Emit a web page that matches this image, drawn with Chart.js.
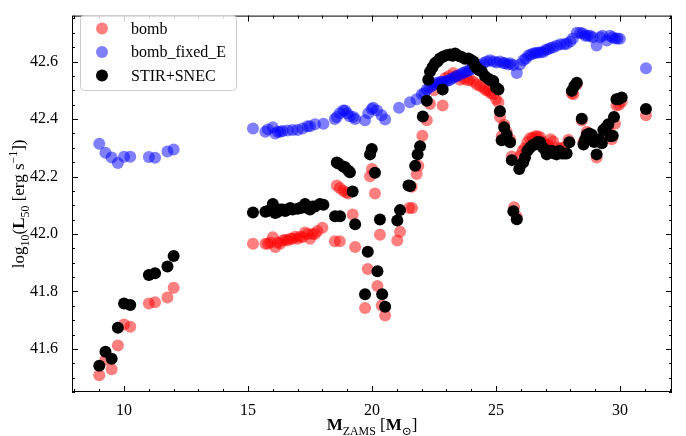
<!DOCTYPE html>
<html>
<head>
<meta charset="utf-8">
<script src="https://cdn.jsdelivr.net/npm/chart.js@4.4.1/dist/chart.umd.min.js"></script>
<style>
  html, body { margin: 0; padding: 0; background: #fff; }
  #wrap { width: 686px; height: 436px; }
</style>
</head>
<body>
<div id="wrap"><canvas id="myChart" width="686" height="436"></canvas></div>
<script>
// values
const bombMass = [9.0, 9.25, 9.5, 9.75, 10.0, 10.25, 11.0, 11.25, 11.75, 12.0,
  15.2, 15.7, 15.8, 15.9, 16.0, 16.1, 16.2, 16.3, 16.4, 16.5, 16.6, 16.7, 16.8, 16.9, 17.0, 17.1, 17.2, 17.3, 17.4, 17.5, 17.6, 17.7, 17.8, 18.0,
  18.5, 18.7, 18.58, 18.7, 18.84, 18.95, 19.05, 19.22, 19.32, 19.72, 19.83, 19.92, 20.0, 20.12, 20.22, 20.32, 20.39, 20.53,
  21.02, 21.13, 21.5, 21.62, 21.6, 21.8, 21.87, 22.03, 22.21, 22.34, 22.5, 22.7, 22.85, 22.95, 23.1, 23.28, 23.4, 23.55, 23.7, 23.85, 23.95,
  24.1, 24.23, 24.36, 24.49, 24.6, 24.69, 24.79, 24.89, 25.0, 25.1, 25.16, 25.23, 25.33, 25.43, 25.57, 25.64, 25.73, 25.84, 25.97,
  26.07, 26.17, 26.27, 26.37, 26.48, 26.58, 26.68, 26.78, 26.9, 27.0, 27.1, 27.2, 27.31, 27.45, 27.55, 27.65, 27.75, 27.92,
  28.06, 28.12, 28.26, 28.46, 28.53, 28.66, 28.76, 28.86, 29.06, 29.27, 29.43, 29.53, 29.67, 29.8, 29.86, 29.96, 30.07, 31.05];
const bombL = [41.508, 41.562, 41.529, 41.612, 41.685, 41.677, 41.758, 41.762, 41.779, 41.813,
  41.966, 41.966, 41.966, 41.97, 41.989, 41.955, 41.97, 41.966, 41.977, 41.98, 41.977, 41.983, 41.983, 41.99, 41.983, 41.99, 41.989, 42.005, 42.0, 41.983, 42.0, 42.0, 42.01, 42.022,
  41.975, 41.975, 42.169, 42.16, 42.15, 42.145, 42.141, 42.068, 41.955, 41.742, 41.878, 42.201, 42.226, 42.141, 41.819, 41.997, 41.751, 41.716,
  41.977, 42.008, 42.09, 42.09, 42.164, 42.209, 42.237, 42.342, 42.396, 42.452, 42.50, 42.52, 42.447, 42.543, 42.55, 42.56, 42.55, 42.537, 42.54, 42.535, 42.537,
  42.53, 42.52, 42.515, 42.509, 42.50, 42.498, 42.49, 42.486, 42.47, 42.458, 42.407, 42.34, 42.38, 42.355, 42.33, 42.27, 42.093, 42.06, 42.271,
  42.29, 42.30, 42.32, 42.333, 42.335, 42.34, 42.34, 42.337, 42.32, 42.31, 42.31, 42.33, 42.322, 42.30, 42.29, 42.30, 42.30, 42.328,
  42.49, 42.486, 42.52, 42.395, 42.32, 42.356, 42.35, 42.34, 42.266, 42.33, 42.36, 42.37, 42.33, 42.384, 42.447, 42.45, 42.46, 42.413];

const fixedMass = [9.0, 9.25, 9.5, 9.75, 10.0, 10.25, 11.0, 11.25, 11.75, 12.0,
  15.2, 15.7, 15.8, 16.0, 16.1, 16.2, 16.3, 16.4, 16.6, 16.8, 17.0, 17.2, 17.4, 17.5, 17.7, 18.04,
  18.5, 18.58, 18.7, 18.84, 18.91, 19.0, 19.1, 19.25, 19.32, 19.72, 19.85, 19.99, 20.05, 20.2, 20.39, 20.53, 21.09, 21.53, 21.8,
  22.01, 22.11, 22.21, 22.31, 22.41, 22.51, 22.61, 22.71, 22.81, 22.91, 23.01, 23.11, 23.21, 23.31, 23.41, 23.55, 23.65, 23.75, 23.85, 23.95,
  24.05, 24.15, 24.25, 24.36, 24.5, 24.63, 24.76, 24.9, 25.03, 25.16, 25.3, 25.37, 25.5, 25.57, 25.7, 25.84, 25.97,
  26.1, 26.2, 26.3, 26.4, 26.51, 26.6, 26.7, 26.8, 26.91, 27.0, 27.1, 27.2, 27.31, 27.45, 27.6, 27.75, 27.85,
  28.0, 28.1, 28.26, 28.4, 28.5, 28.6, 28.7, 28.8, 28.9, 29.06, 29.2, 29.3, 29.47, 29.6, 29.7, 29.8, 29.9, 30.0, 31.05];
const fixedL = [42.314, 42.283, 42.266, 42.247, 42.269, 42.269, 42.268, 42.265, 42.287, 42.294,
  42.367, 42.356, 42.364, 42.371, 42.350, 42.356, 42.356, 42.358, 42.36, 42.362, 42.362, 42.367, 42.375, 42.375, 42.382, 42.384,
  42.40, 42.407, 42.42, 42.43, 42.43, 42.42, 42.41, 42.407, 42.40, 42.396, 42.42, 42.435, 42.439, 42.43, 42.413, 42.398, 42.439, 42.458, 42.469,
  42.486, 42.49, 42.503, 42.51, 42.515, 42.52, 42.525, 42.528, 42.53, 42.53, 42.532, 42.535, 42.54, 42.545, 42.55, 42.554, 42.56, 42.563, 42.567, 42.571,
  42.575, 42.58, 42.585, 42.588, 42.595, 42.6, 42.605, 42.60, 42.597, 42.6, 42.595, 42.594, 42.59, 42.594, 42.588, 42.56, 42.59,
  42.605, 42.61, 42.62, 42.625, 42.628, 42.63, 42.632, 42.632, 42.633, 42.64, 42.643, 42.647, 42.65, 42.655, 42.66, 42.66, 42.662,
  42.67, 42.68, 42.70, 42.70, 42.698, 42.69, 42.69, 42.69, 42.685, 42.656, 42.685, 42.69, 42.673, 42.69, 42.685, 42.68, 42.68, 42.679, 42.577];

const stirMass = [9.0, 9.25, 9.5, 9.75, 10.0, 10.25, 11.0, 11.25, 11.75, 12.0,
  15.2, 15.7, 15.8, 16.0, 16.1, 16.2, 16.3, 16.4, 16.5, 16.6, 16.7, 16.8, 17.0, 17.1, 17.2, 17.3, 17.4, 17.5, 17.6, 17.7, 17.9, 18.04,
  18.51, 18.58, 18.64, 18.71, 18.84, 18.91, 19.05, 19.11, 19.22, 19.32, 19.72, 19.83, 19.92, 19.99, 20.12, 20.22, 20.32, 20.41, 20.53,
  21.02, 21.13, 21.47, 21.54, 21.74, 21.84, 21.94, 22.05, 22.21, 22.27, 22.34, 22.44, 22.54, 22.64, 22.74, 22.85, 22.88, 23.01, 23.15, 23.25, 23.35, 23.48, 23.62, 23.75, 23.89,
  24.0, 24.09, 24.16, 24.23, 24.33, 24.43, 24.56, 24.69, 24.79, 24.89, 25.0, 25.1, 25.16, 25.23, 25.33, 25.43, 25.57, 25.64, 25.70, 25.84, 25.94,
  26.0, 26.1, 26.17, 26.27, 26.37, 26.48, 26.58, 26.68, 26.78, 26.9, 27.0, 27.05, 27.15, 27.25, 27.35, 27.45, 27.55, 27.65, 27.75, 27.85, 27.96,
  28.06, 28.16, 28.26, 28.46, 28.53, 28.6, 28.66, 28.76, 28.86, 28.96, 29.06, 29.16, 29.27, 29.33, 29.43, 29.53, 29.63, 29.71, 29.76, 29.86, 29.96, 30.07, 31.05];
const stirL = [41.541, 41.590, 41.566, 41.674, 41.758, 41.753, 41.857, 41.863, 41.887, 41.923,
  42.075, 42.077, 42.08, 42.104, 42.073, 42.077, 42.085, 42.085, 42.08, 42.085, 42.09, 42.085, 42.088, 42.09, 42.092, 42.104, 42.09, 42.085, 42.096, 42.096, 42.104, 42.102,
  42.062, 42.249, 42.245, 42.062, 42.235, 42.232, 42.22, 42.215, 42.148, 42.034, 41.79, 41.938, 42.277, 42.296, 42.213, 41.87, 42.05, 41.79, 41.747,
  42.047, 42.083, 42.169, 42.167, 42.237, 42.277, 42.305, 42.409, 42.464, 42.537, 42.565, 42.58, 42.594, 42.60, 42.611, 42.503, 42.618, 42.622, 42.625, 42.62, 42.628, 42.62, 42.616, 42.61, 42.611,
  42.605, 42.60, 42.585, 42.577, 42.57, 42.565, 42.549, 42.54, 42.535, 42.532, 42.51, 42.503, 42.427, 42.326, 42.371, 42.345, 42.319, 42.257, 42.079, 42.051, 42.226,
  42.24, 42.25, 42.266, 42.29, 42.30, 42.31, 42.311, 42.32, 42.319, 42.30, 42.29, 42.277, 42.29, 42.29, 42.28, 42.277, 42.29, 42.28, 42.28, 42.28, 42.319,
  42.498, 42.515, 42.526, 42.401, 42.311, 42.33, 42.345, 42.35, 42.345, 42.32, 42.277, 42.33, 42.316, 42.362, 42.37, 42.382, 42.34, 42.342, 42.407, 42.469, 42.47, 42.475, 42.435];

const seriesNames = ['bomb', 'bomb_fixed_E', 'STIR+SNEC'];
const xTickValues = [10, 15, 20, 25, 30];
const yTickValues = [41.6, 41.8, 42.0, 42.2, 42.4, 42.6];

const serif = '"Liberation Serif", "DejaVu Serif", serif';

function toPoints(xs, ys) {
  return xs.map((x, i) => ({ x: x, y: ys[i] }));
}

// matplotlib-ish frame with inward major + minor ticks on all sides
const framePlugin = {
  id: 'frame',
  afterDatasetsDraw(chart) {
    const { ctx, chartArea: a, scales } = chart;
    const xs = scales.x, ys = scales.y;
    ctx.save();
    ctx.strokeStyle = '#000';
    ctx.lineWidth = 1;
    ctx.strokeRect(a.left + 0.5, a.top + 0.5, a.right - a.left - 1, a.bottom - a.top - 1);

    function tick(px, len, vertical) {
      ctx.beginPath();
      if (vertical) {
        ctx.moveTo(px, a.bottom); ctx.lineTo(px, a.bottom - len);
        ctx.moveTo(px, a.top); ctx.lineTo(px, a.top + len);
      } else {
        ctx.moveTo(a.left, px); ctx.lineTo(a.left + len, px);
        ctx.moveTo(a.right, px); ctx.lineTo(a.right - len, px);
      }
      ctx.stroke();
    }
    for (let v = Math.ceil(xs.min); v <= xs.max; v++) {
      const major = v % 5 === 0;
      tick(Math.round(xs.getPixelForValue(v)) + 0.5, major ? 6 : 3, true);
    }
    for (let k = Math.ceil(ys.min / 0.05 - 1e-6); k * 0.05 <= ys.max + 1e-6; k++) {
      const v = k * 0.05;
      const major = Math.abs(v * 5 - Math.round(v * 5)) < 1e-6;
      tick(Math.round(ys.getPixelForValue(v)) + 0.5, major ? 6 : 3, false);
    }
    ctx.restore();
  }
};

// draw a run of text pieces (normal / sub / sup / bold) centred at 0,0
function drawPieces(ctx, pieces, size) {
  const parts = pieces.map(p => {
    const s = p.sub || p.sup ? size * 0.7 : size;
    const font = (p.bold ? 'bold ' : '') + s + 'px ' + serif;
    ctx.font = font;
    return { t: p.t, font: font, w: ctx.measureText(p.t).width, dy: p.sub ? size * 0.28 : (p.sup ? -size * 0.38 : 0) };
  });
  const total = parts.reduce((s, p) => s + p.w, 0);
  let x = -total / 2;
  ctx.textBaseline = 'alphabetic';
  ctx.textAlign = 'left';
  parts.forEach(p => {
    ctx.font = p.font;
    ctx.fillText(p.t, x, size * 0.35 + p.dy);
    x += p.w;
  });
}

const titlePlugin = {
  id: 'axisTitles',
  afterDraw(chart) {
    const { ctx, chartArea: a } = chart;
    ctx.save();
    ctx.fillStyle = '#000';
    ctx.translate((a.left + a.right) / 2, 424);
    drawPieces(ctx, [
      { t: 'M', bold: true }, { t: 'ZAMS', sub: true }, { t: ' [' }, { t: 'M', bold: true }, { t: '\u2299', sub: true }, { t: ']' }
    ], 17);
    ctx.restore();

    ctx.save();
    ctx.fillStyle = '#000';
    ctx.translate(18, (a.top + a.bottom) / 2);
    ctx.rotate(-Math.PI / 2);
    drawPieces(ctx, [
      { t: 'log' }, { t: '10', sub: true }, { t: '(' }, { t: 'L', bold: true }, { t: '50', sub: true },
      { t: ' [erg s' }, { t: '\u22121', sup: true }, { t: '])' }
    ], 17);
    ctx.restore();
  }
};

const legendPlugin = {
  id: 'boxLegend',
  afterDraw(chart) {
    const { ctx } = chart;
    const x0 = 80, y0 = 15, w = 156, h = 75, r = 4;
    ctx.save();
    ctx.fillStyle = 'rgba(255,255,255,0.8)';
    ctx.strokeStyle = '#cccccc';
    ctx.lineWidth = 1;
    ctx.beginPath();
    ctx.roundRect(x0 + 0.5, y0 + 0.5, w, h, r);
    ctx.fill();
    ctx.stroke();
    ctx.font = '16px ' + serif;
    ctx.textBaseline = 'middle';
    ctx.textAlign = 'left';
    chart.data.datasets.forEach((ds, i) => {
      const cy = 28.5 + i * 23.5;
      ctx.fillStyle = ds.backgroundColor;
      ctx.beginPath();
      ctx.arc(102, cy, 6, 0, Math.PI * 2);
      ctx.fill();
      ctx.fillStyle = '#000';
      ctx.fillText(ds.label, 131, cy + 1);
    });
    ctx.restore();
  }
};

const ctx = document.getElementById('myChart').getContext('2d');

new Chart(ctx, {
  type: 'scatter',
  data: {
    datasets: [{
      label: seriesNames[0],
      data: toPoints(bombMass, bombL),
      backgroundColor: 'rgba(255, 0, 0, 0.5)',
      order: 3
    }, {
      label: seriesNames[1],
      data: toPoints(fixedMass, fixedL),
      backgroundColor: 'rgba(0, 0, 255, 0.5)',
      order: 2
    }, {
      label: seriesNames[2],
      data: toPoints(stirMass, stirL),
      backgroundColor: '#000000',
      order: 1
    }]
  },
  options: {
    responsive: false,
    animation: false,
    devicePixelRatio: 1,
    layout: { padding: { top: 6, right: 14, left: 0, bottom: 0 } },
    elements: { point: { radius: 6, borderWidth: 0, hoverRadius: 6 } },
    plugins: {
      legend: { display: false },
      tooltip: { enabled: false }
    },
    scales: {
      x: {
        type: 'linear',
        min: 7.9,
        max: 32.1,
        grid: { display: false },
        border: { display: false },
        afterBuildTicks: s => { s.ticks = xTickValues.map(v => ({ value: v })); },
        afterFit: s => { s.height = 44; },
        ticks: {
          padding: 1,
          color: '#000',
          font: { family: serif, size: 16 },
          callback: v => String(v)
        }
      },
      y: {
        type: 'linear',
        min: 41.45,
        max: 42.76,
        grid: { display: false },
        border: { display: false },
        afterBuildTicks: s => { s.ticks = yTickValues.map(v => ({ value: v })); },
        afterFit: s => { s.width = 72; },
        ticks: {
          padding: 6,
          color: '#000',
          font: { family: serif, size: 16 },
          callback: v => v.toFixed(1)
        }
      }
    }
  },
  plugins: [framePlugin, titlePlugin, legendPlugin]
});
</script>
</body>
</html>
